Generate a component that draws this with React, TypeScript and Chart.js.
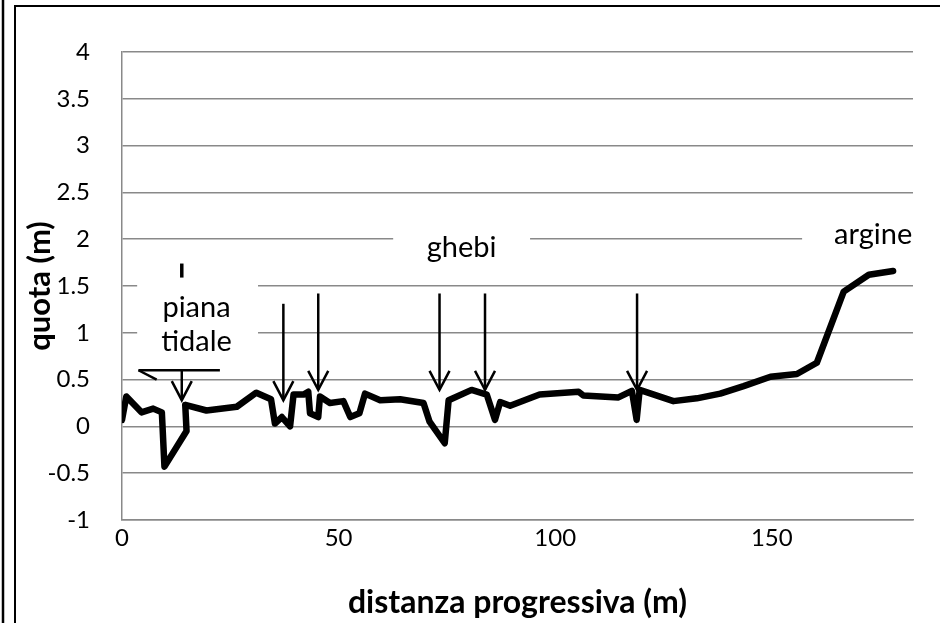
import React, { useEffect, useRef } from "react";
import { Chart, registerables } from "chart.js";

Chart.register(...registerables);

// ---- data ----
const distanza = [
  0, 1, 4.5, 7.2, 9.2, 9.8, 14.9, 14.6, 19.5, 26.5, 31, 34.4, 35.3, 36.9, 38.8, 39.6, 41.9, 43.0, 43.4,
  45.3, 45.7, 48.0, 51.1, 52.7, 54.8, 56.1, 59.6, 64.2, 69.6, 71.0, 74.5, 75.4, 80.7, 84.2, 86.1, 87.3,
  89.6, 96.4, 105.4, 106.5, 114.6, 117.7, 118.8, 119.5, 127.3, 132.7, 138.1, 143.5, 149.7, 155.8, 160.4,
  166.6, 172.4, 178.0,
];
const quota = [
  0.07, 0.32, 0.15, 0.19, 0.15, -0.43, -0.05, 0.23, 0.17, 0.21, 0.36, 0.29, 0.03, 0.1, 0.0, 0.34, 0.34, 0.37, 0.14,
  0.1, 0.32, 0.25, 0.27, 0.1, 0.14, 0.35, 0.28, 0.29, 0.25, 0.05, -0.18, 0.28, 0.39, 0.34, 0.07, 0.26,
  0.22, 0.34, 0.37, 0.33, 0.31, 0.38, 0.07, 0.39, 0.27, 0.30, 0.35, 0.43, 0.53, 0.56, 0.68,
  1.44, 1.62, 1.66,
];

const xTickValues = [0, 50, 100, 150];
const xMin = 0;
const xMax = 182.6;
const yMin = -1;
const yMax = 4;
const yStep = 0.5;

const xTitle = "distanza progressiva (m)";
const yTitle = "quota (m)";

// annotations (data units)
const ghebiArrowX = [37.25, 45.3, 73.3, 83.8, 118.9];
const ghebiArrowTop = [1.31, 1.42, 1.42, 1.42, 1.42];
const ghebiArrowTip = [0.28, 0.39, 0.39, 0.39, 0.39];

const labelTexts = ["piana", "tidale", "ghebi", "argine"];
const labelX = [17.2, 17.2, 78.4, 173.4];
const labelY = [1.27, 0.91, 1.91, 2.05];

// white label boxes: [x0, x1, y0, y1]
const boxX0 = [3.5, 62.6, 157];
const boxX1 = [31.4, 94.2, 190];
const boxY0 = [0.69, 1.69, 1.8];
const boxY1 = [1.86, 2.12, 2.23];

// piana tidale water-level symbol
const tidalArrowX = 13.8;
const tidalArrowTop = 0.6;
const tidalArrowTip = 0.28;
const tidalLineX = [3.8, 22.6];
const tidalLineY = 0.6;
const tidalDiagEnd = [8.0, 0.5];
const tidalBarY = [1.74, 1.59];

const FONT = "Lato, 'Open Sans', sans-serif";

const annotPlugin = {
  id: "annot",
  beforeDraw(chart: any) {
    const { ctx, width, height } = chart;
    ctx.save();
    ctx.fillStyle = "#fff";
    ctx.fillRect(0, 0, width, height);
    ctx.restore();
  },
  beforeDatasetsDraw(chart: any) {
    const { ctx, scales } = chart;
    const x = scales.x, y = scales.y;
    ctx.save();
    ctx.fillStyle = "#fff";
    for (let i = 0; i < boxX0.length; i++) {
      const l = x.getPixelForValue(boxX0[i]);
      const r = x.getPixelForValue(boxX1[i]);
      const t = y.getPixelForValue(boxY1[i]);
      const b = y.getPixelForValue(boxY0[i]);
      ctx.fillRect(l, t, r - l, b - t);
    }
    ctx.restore();
  },
  afterDatasetsDraw(chart: any) {
    const { ctx, scales, width, height } = chart;
    const x = scales.x, y = scales.y;
    const px = (v: number) => x.getPixelForValue(v);
    const py = (v: number) => y.getPixelForValue(v);
    ctx.save();
    ctx.strokeStyle = "#000";
    ctx.lineCap = "butt";

    const arrow = (xv: number, top: number, tip: number) => {
      const ax = px(xv);
      const ty = py(top);
      const tp = py(tip);
      ctx.lineWidth = 2.5;
      ctx.beginPath();
      ctx.moveTo(ax, ty);
      ctx.lineTo(ax, tp);
      ctx.stroke();
      ctx.beginPath();
      ctx.moveTo(ax - 10, tp - 19);
      ctx.lineTo(ax, tp);
      ctx.lineTo(ax + 10, tp - 19);
      ctx.stroke();
    };
    for (let i = 0; i < ghebiArrowX.length; i++) {
      arrow(ghebiArrowX[i], ghebiArrowTop[i], ghebiArrowTip[i]);
    }
    // piana tidale symbol
    arrow(tidalArrowX, tidalArrowTop, tidalArrowTip);
    ctx.lineWidth = 2.5;
    ctx.beginPath();
    ctx.moveTo(px(tidalLineX[0]), py(tidalLineY));
    ctx.lineTo(px(tidalLineX[1]), py(tidalLineY));
    ctx.stroke();
    ctx.beginPath();
    ctx.moveTo(px(tidalLineX[0]), py(tidalLineY));
    ctx.lineTo(px(tidalDiagEnd[0]), py(tidalDiagEnd[1]));
    ctx.stroke();
    ctx.lineWidth = 3.5;
    ctx.beginPath();
    ctx.moveTo(px(tidalArrowX), py(tidalBarY[0]));
    ctx.lineTo(px(tidalArrowX), py(tidalBarY[1]));
    ctx.stroke();

    // labels
    ctx.fillStyle = "#000";
    ctx.font = `29px ${FONT}`;
    ctx.textAlign = "center";
    ctx.textBaseline = "middle";
    for (let i = 0; i < labelTexts.length; i++) {
      ctx.fillText(labelTexts[i], px(labelX[i]), py(labelY[i]));
    }

    // outer frame
    ctx.lineWidth = 2;
    ctx.strokeStyle = "#000";
    ctx.strokeRect(15, 6, width + 20, height + 20);
    ctx.lineWidth = 2.5;
    ctx.beginPath();
    ctx.moveTo(3, 0);
    ctx.lineTo(3, height);
    ctx.stroke();
    ctx.restore();
  },
};

export default function App() {
  const ref = useRef<HTMLCanvasElement | null>(null);
  useEffect(() => {
    if (!ref.current) return;
    const yTickValues: number[] = [];
    for (let v = yMin; v <= yMax + 1e-9; v += yStep) yTickValues.push(Math.round(v * 10) / 10);
    const chart = new Chart(ref.current, {
      type: "scatter",
      data: {
        datasets: [
          {
            label: "profilo",
            data: distanza.map((d, i) => ({ x: d, y: quota[i] })),
            showLine: true,
            borderColor: "#000",
            backgroundColor: "#000",
            borderWidth: 6.5,
            pointRadius: 0,
            tension: 0,
            borderJoinStyle: "round",
            borderCapStyle: "round",
          },
        ],
      },
      options: {
        animation: false,
        responsive: true,
        maintainAspectRatio: false,
        layout: { padding: { top: 52, right: 27, left: 0, bottom: 0 } },
        plugins: { legend: { display: false }, tooltip: { enabled: false } },
        scales: {
          x: {
            type: "linear",
            min: xMin,
            max: xMax,
            grid: { display: false, drawTicks: false },
            border: { display: true, color: "#898989", width: 1.5 },
            afterBuildTicks: (s: any) => {
              s.ticks = xTickValues.map((v) => ({ value: v }));
            },
            afterFit: (s: any) => {
              s.height = 103;
            },
            ticks: {
              color: "#000",
              font: { family: FONT, size: 24 },
              padding: 4,
              maxRotation: 0,
              callback: (v: any) => String(v),
            },
            title: {
              display: true,
              text: xTitle,
              color: "#000",
              font: { family: FONT, size: 32, weight: "bold" },
              padding: { top: 0, bottom: 1 },
            },
          },
          y: {
            type: "linear",
            min: yMin,
            max: yMax,
            afterBuildTicks: (s: any) => {
              s.ticks = yTickValues.map((v) => ({ value: v }));
            },
            afterFit: (s: any) => {
              s.width = 122;
            },
            grid: { color: "#898989", lineWidth: 1.5, drawTicks: false },
            border: { display: true, color: "#898989", width: 1.5 },
            ticks: {
              color: "#000",
              font: { family: FONT, size: 24 },
              padding: 32,
              callback: (v: any) => String(v),
            },
            title: {
              display: true,
              text: yTitle,
              color: "#000",
              font: { family: FONT, size: 31, weight: "bold" },
              padding: { top: 21, bottom: 0 },
            },
          },
        },
      },
      plugins: [annotPlugin],
    } as any);
    return () => chart.destroy();
  }, []);
  return (
    <div style={{ position: "fixed", left: 0, top: 0, width: 940, height: 623, background: "#fff" }}>
      <canvas ref={ref} />
    </div>
  );
}
